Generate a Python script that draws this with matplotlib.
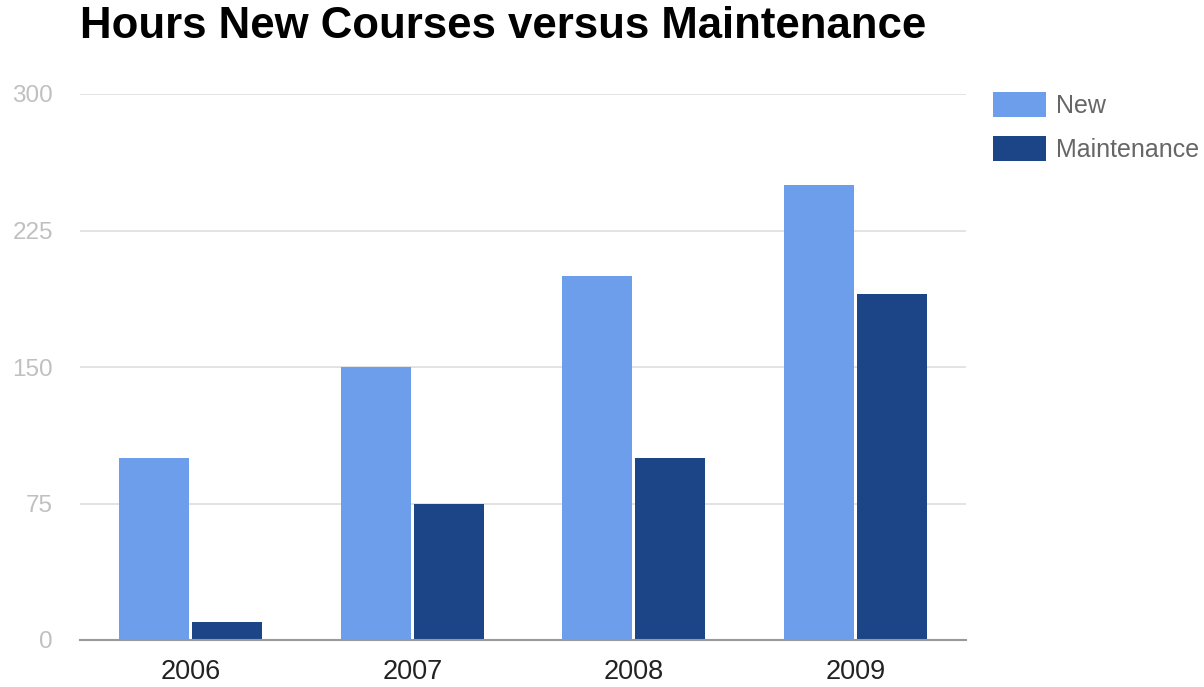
import matplotlib
matplotlib.use('Agg')
import matplotlib.pyplot as plt
import numpy as np

years = ['2006', '2007', '2008', '2009']
new_hours = [100, 150, 200, 250]
maint_hours = [10, 75, 100, 190]
yticks = [0, 75, 150, 225, 300]

plt.rcParams['font.family'] = ['Liberation Sans', 'DejaVu Sans']

fig = plt.figure(figsize=(12.04, 6.87), dpi=100)
ax = fig.add_axes([80 / 1204, 1 - 640 / 687, 886 / 1204, 546 / 687])

x = np.arange(len(years))
w = 0.316
ax.bar(x - 0.164, new_hours, w, color='#6d9eeb', label='New', zorder=2)
ax.bar(x + 0.164, maint_hours, w, color='#1c4587', label='Maintenance', zorder=2)

ax.set_xlim(-0.5, len(years) - 0.5)
ax.set_ylim(0, 300)
ax.set_yticks(yticks)
ax.set_yticklabels([str(v) for v in yticks], color='#c0c0c0', fontsize=17.5)
ax.set_xticks(x)
ax.set_xticklabels(years, color='#222222', fontsize=19.5)
ax.tick_params(axis='y', length=0, pad=19.5)
ax.tick_params(axis='x', length=0, pad=14)
ax.grid(axis='y', color='#e0e0e0', linewidth=1.3, zorder=0)
for s in ['top', 'right', 'left']:
    ax.spines[s].set_visible(False)
ax.spines['bottom'].set_color('#999999')
ax.spines['bottom'].set_linewidth(1.5)
ax.spines['bottom'].set_zorder(3)

fig.text(80 / 1204, 1 - 26 / 687, 'Hours New Courses versus Maintenance',
         fontsize=31.5, fontweight='bold', color='black', va='center', ha='left')

ax.legend(loc='upper left', bbox_to_anchor=(993 / 1204, 1 - 92 / 687),
          bbox_transform=fig.transFigure, frameon=False, fontsize=18,
          labelcolor='#666666', handlelength=2.1, handleheight=1.15,
          handletextpad=0.4, labelspacing=0.72, borderpad=0, borderaxespad=0)

fig.savefig('out.png', dpi=100)
